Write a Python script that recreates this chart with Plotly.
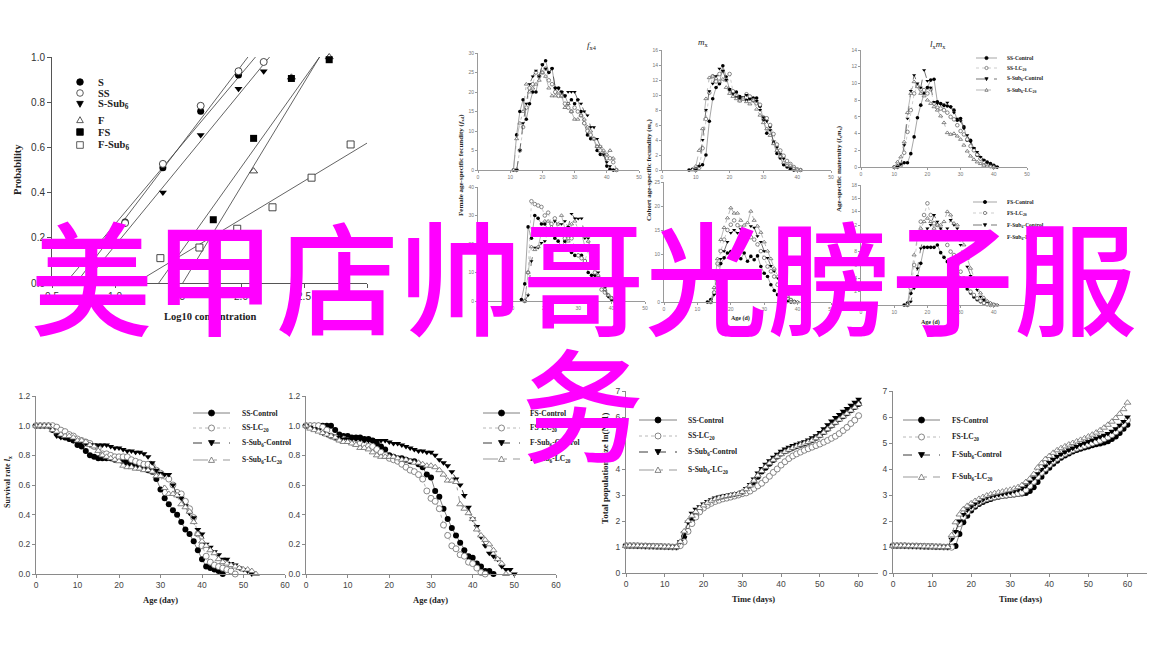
import numpy as np
import plotly.graph_objects as go

W, H = 1164, 657

# ------------------------------------------------------------------ data
# (A) probability vs log10 concentration
conc_S = [1.08, 1.38, 1.68, 1.98]
prob_S = [0.27, 0.51, 0.76, 0.92]
conc_SS = [1.08, 1.38, 1.68, 1.98, 2.18]
prob_SS = [0.265, 0.527, 0.784, 0.937, 0.978]
conc_SSub6 = [1.38, 1.68, 1.98, 2.18]
prob_SSub6 = [0.40, 0.655, 0.86, 0.937]
conc_F = [1.78, 2.10, 2.40, 2.70]
prob_F = [0.20, 0.495, 0.91, 1.0]
conc_FS = [1.78, 2.10, 2.40, 2.70]
prob_FS = [0.28, 0.64, 0.905, 0.988]
conc_FSub6 = [1.36, 1.67, 1.97, 2.25, 2.56, 2.87]
prob_FSub6 = [0.11, 0.157, 0.24, 0.335, 0.466, 0.613]
probit_names = ["S", "SS", "S-Sub<sub>6</sub>", "F", "FS", "F-Sub<sub>6</sub>"]
prob_ticks = [0.0, 0.2, 0.4, 0.6, 0.8, 1.0]
conc_ticks = [0.5, 1.0, 1.5, 2.0, 2.5, 3.0]

names_S = ["SS-Control", "SS-LC<sub>20</sub>", "S-Sub<sub>6</sub>-Control", "S-Sub<sub>6</sub>-LC<sub>20</sub>"]
names_F = ["FS-Control", "FS-LC<sub>20</sub>", "F-Sub<sub>6</sub>-Control", "F-Sub<sub>6</sub>-LC<sub>20</sub>"]

# (B) female age-specific fecundity f_x4, S strains (first day, values)
fx4_SSC_d0, fx4_SSC = 11, [0, 9, 15, 18, 13, 17, 20, 20, 24, 27, 28, 25, 26, 21, 21, 20, 19, 17, 18, 17, 18, 15, 12, 9, 8, 8, 5, 4, 4, 1, 0.2, 0]
fx4_SSL_d0, fx4_SSL = 12, [0, 5, 11, 16, 21, 22, 25, 24, 25, 26, 23, 22, 20, 19, 19, 17, 16, 15, 16, 15, 14, 12, 10, 9, 8, 6, 5, 4, 3, 3, 2, 0]
fx4_SBC_d0, fx4_SBC = 12, [0, 5, 12, 17, 22, 24, 25.5, 24, 27, 26, 25, 26, 21, 21, 20, 19, 20, 20, 20, 18, 17, 15, 14, 11, 11, 8, 6, 4, 2, 1, 0]
fx4_SBL_d0, fx4_SBL = 11, [0, 8, 12, 15, 22, 20, 21, 22, 23, 25, 24, 21, 19, 19, 20, 19, 16, 17, 15, 13, 13, 14, 13, 11, 10, 8, 6, 6, 5, 4, 5, 3, 0]

# (C) age-specific fecundity m_x, S strains
mx_SSC_d0, mx_SSC = 8, [0, 0.1, 0.2, 0.5, 0.7, 2.0, 6.5, 9.5, 11.0, 11.5, 13.9, 12.4, 10.7, 10.4, 10.4, 9.8, 9.6, 9.3, 9.5, 9.6, 9.6, 8.5, 6.7, 4.9, 5.8, 3.6, 2.2, 1.6, 0.7, 0.4, 0.1, 0]
mx_SSL_d0, mx_SSL = 10, [0, 0.3, 2.9, 6.8, 10.3, 12.5, 11.8, 12.8, 13.2, 12.0, 12.8, 10.5, 9.8, 9.3, 9.5, 10.1, 9.8, 9.3, 8.9, 8.7, 7.0, 6.9, 6.0, 4.8, 3.4, 2.6, 1.9, 1.2, 0.8, 0.4, 0.1, 0]
mx_SBC_d0, mx_SBC = 10, [0, 0.5, 4.0, 8.0, 10.5, 11.5, 12.5, 13.5, 13.2, 12.0, 10.8, 10.1, 9.7, 9.5, 9.7, 10.0, 9.5, 9.2, 9.2, 8.0, 7.0, 6.5, 5.3, 3.8, 3.0, 2.1, 1.5, 0.5, 0.2, 0]
mx_SBL_d0, mx_SBL = 9, [0, 0.5, 2.6, 5.5, 9.5, 12.3, 12.5, 12.2, 11.8, 12.1, 11.0, 10.2, 9.8, 9.5, 9.2, 9.6, 9.1, 8.8, 9.3, 8.1, 7.3, 6.3, 5.5, 4.6, 3.5, 2.6, 1.8, 1.0, 0.6, 0.6, 0.2, 0, 0]

# (D) age-specific maternity l_x m_x, S strains
lm_SSC_d0, lm_SSC = 10, [0, 0.1, 0.3, 0.5, 0.5, 1.6, 3.6, 5.9, 7.4, 8.8, 9.5, 10.4, 10.5, 7.8, 7.6, 7.4, 7.3, 7.2, 6.8, 5.6, 5.8, 4.8, 3.2, 3.2, 2.2, 1.4, 1.0, 0.8, 0.6, 0.4, 0.2, 0]
lm_SSL_d0, lm_SSL = 11, [0, 0.2, 1.7, 4.2, 6.8, 8.8, 9.7, 9.3, 9.2, 8.8, 9.3, 7.6, 7.1, 7.0, 6.8, 6.5, 6.0, 5.7, 5.0, 4.3, 3.9, 3.3, 2.5, 2.0, 1.5, 1.0, 0.6, 0.3, 0.1, 0]
lm_SBC_d0, lm_SBC = 11, [0, 0.3, 2.6, 5.8, 9.1, 11.0, 10.0, 9.5, 11.6, 10.3, 9.5, 7.8, 7.6, 7.5, 7.3, 7.7, 7.2, 6.5, 5.8, 5.5, 4.6, 3.8, 3.0, 2.3, 1.8, 1.2, 0.8, 0.5, 0.3, 0.1, 0]
lm_SBL_d0, lm_SBL = 10, [0, 0.6, 1.2, 3.0, 6.5, 8.8, 10.2, 9.6, 8.8, 8.5, 8.0, 7.6, 7.2, 6.8, 6.1, 5.3, 4.1, 3.9, 4.0, 3.7, 3.3, 2.6, 1.9, 1.3, 0.9, 0.6, 0.4, 0.2, 0.1, 0.05, 0]

# (E) female age-specific fecundity f_x4, F strains
fx4_FSC_d0, fx4_FSC = 13, [0.5, 6, 26, 22, 30, 29, 27, 27, 25, 25, 22, 21, 19, 21, 18, 17, 16, 16, 16, 14, 10, 9, 9, 8, 6, 5, 2, 1, 0.2, 0]
fx4_FSL_d0, fx4_FSL = 14, [0, 10, 35, 34, 33.5, 33, 30, 31, 27, 29, 25, 25, 22, 22, 22, 19, 16, 15, 14, 18, 12, 10, 8, 4, 3, 2, 1, 0]
fx4_FBC_d0, fx4_FBC = 14, [0, 2, 14, 18.7, 18.7, 20.4, 21, 24, 24, 28, 27, 27, 28, 26, 30.6, 29, 28.9, 29, 22, 22, 15, 12, 10, 6, 4, 1.4, 0.2, 0]
fx4_FBL_d0, fx4_FBL = 14, [0, 10, 19, 18, 19, 24, 28, 28, 26, 25, 27, 30, 25, 21, 27, 28, 25, 24, 19, 21, 14, 12, 9, 6, 4, 2, 1, 0]

# (F) cohort age-specific fecundity m_x, F strains
mx_FSC_d0, mx_FSC = 13, [0, 0.5, 1.9, 4.5, 8.0, 9.2, 10.2, 10.5, 10.0, 9.8, 9.0, 10.2, 8.5, 9.5, 8.8, 9.6, 7.4, 6.0, 5.3, 3.6, 2.4, 1.5, 0.8, 0.3, 0.1, 0]
mx_FSL_d0, mx_FSL = 14, [0, 2.0, 8.0, 10.6, 13.0, 15.0, 16.1, 17.0, 16.0, 15.5, 15.0, 14.0, 13.5, 13.0, 12.0, 10.6, 9.2, 7.4, 6.4, 5.3, 3.6, 2.5, 1.5, 0.8, 0.3, 0]
mx_FBC_d0, mx_FBC = 14, [0, 1.5, 6.0, 9.0, 10.6, 12.5, 14.4, 15.0, 14.4, 15.2, 14.8, 14.0, 15.8, 15.5, 13.7, 12.5, 10.6, 9.2, 7.5, 6.4, 5.0, 3.6, 2.2, 1.2, 0.5, 0.1, 0]
mx_FBL_d0, mx_FBL = 14, [0, 3.0, 9.0, 13.0, 15.5, 17.5, 19.6, 18.5, 18.5, 17.0, 16.0, 16.5, 18.9, 17.0, 15.8, 14.5, 12.5, 10.6, 9.0, 7.0, 5.3, 3.6, 2.2, 1.2, 0.5, 0.1, 0]

# (G) age-specific maternity l_x m_x, F strains
lm_FSC_d0, lm_FSC = 13, [0, 0.3, 1.75, 3.0, 4.25, 6.25, 8.65, 8.65, 8.65, 8.65, 9.0, 7.85, 7.15, 6.5, 6.8, 6.0, 5.0, 4.0, 3.2, 2.4, 1.8, 1.2, 0.8, 0.5, 0.3, 0.2, 0.1, 0]
lm_FSL_d0, lm_FSL = 14, [0, 2.5, 6.0, 10.0, 12.5, 13.5, 15.25, 13.5, 12.25, 12.0, 11.0, 10.0, 9.0, 8.0, 7.5, 6.0, 5.0, 4.0, 3.0, 2.0, 1.5, 1.0, 0.6, 0.3, 0.1, 0]
lm_FBC_d0, lm_FBC = 14, [0, 0.5, 2.5, 5.5, 8.5, 10.5, 11.5, 12.0, 13.5, 12.5, 11.5, 11.0, 11.5, 12.75, 12.0, 11.5, 9.0, 6.75, 5.75, 4.35, 3.25, 2.25, 1.25, 0.75, 0.5, 0.3, 0.1, 0]
lm_FBL_d0, lm_FBL = 14, [0, 3.5, 7.5, 10.0, 11.5, 12.5, 13.0, 12.5, 11.5, 12.0, 12.0, 12.5, 14.0, 13.5, 12.25, 12.0, 10.5, 9.0, 7.0, 5.5, 4.0, 2.8, 1.8, 1.1, 0.6, 0.3, 0.1, 0]

# (H) survival rate, S strains (day 0 onwards)
surv_SSC = [1, 1, 1, 1, 0.97, 0.95, 0.93, 0.92, 0.91, 0.90, 0.87, 0.86, 0.83, 0.80, 0.79, 0.78, 0.78, 0.78, 0.78, 0.77, 0.77, 0.76, 0.75, 0.74, 0.73, 0.72, 0.71, 0.70, 0.69, 0.64, 0.57, 0.51, 0.47, 0.43, 0.40, 0.35, 0.30, 0.27, 0.22, 0.16, 0.10, 0.05, 0.04, 0.03, 0.02, 0.0]
surv_SSL = [1, 1, 1, 1, 1, 0.99, 0.97, 0.96, 0.94, 0.93, 0.91, 0.90, 0.89, 0.88, 0.86, 0.85, 0.81, 0.81, 0.80, 0.79, 0.79, 0.79, 0.79, 0.77, 0.76, 0.75, 0.74, 0.74, 0.73, 0.70, 0.68, 0.66, 0.64, 0.60, 0.55, 0.54, 0.49, 0.44, 0.38, 0.27, 0.19, 0.12, 0.08, 0.06, 0.05, 0.04, 0.03, 0.02, 0.0]
surv_SBC = [1, 1, 1, 1, 0.97, 0.93, 0.92, 0.92, 0.91, 0.90, 0.89, 0.88, 0.88, 0.87, 0.87, 0.87, 0.87, 0.87, 0.86, 0.85, 0.85, 0.84, 0.83, 0.83, 0.82, 0.82, 0.81, 0.79, 0.75, 0.70, 0.68, 0.67, 0.67, 0.60, 0.53, 0.51, 0.46, 0.41, 0.38, 0.30, 0.27, 0.20, 0.18, 0.15, 0.13, 0.10, 0.10, 0.07, 0.06, 0.04, 0.03, 0.02, 0.0]
surv_SBL = [1, 1, 1, 1, 0.97, 0.96, 0.94, 0.93, 0.93, 0.92, 0.90, 0.90, 0.89, 0.87, 0.86, 0.83, 0.80, 0.79, 0.78, 0.77, 0.76, 0.73, 0.72, 0.72, 0.71, 0.71, 0.70, 0.70, 0.69, 0.66, 0.66, 0.58, 0.54, 0.54, 0.53, 0.47, 0.45, 0.42, 0.35, 0.27, 0.22, 0.19, 0.16, 0.14, 0.10, 0.08, 0.07, 0.06, 0.05, 0.04, 0.03, 0.03, 0.02, 0.0]

# (I) survival rate, F strains
surv_FSC = [1, 1, 1, 1, 1, 1, 1, 0.97, 0.94, 0.93, 0.93, 0.92, 0.92, 0.92, 0.91, 0.91, 0.90, 0.88, 0.86, 0.84, 0.80, 0.79, 0.78, 0.78, 0.77, 0.76, 0.76, 0.74, 0.72, 0.67, 0.65, 0.56, 0.52, 0.44, 0.37, 0.31, 0.26, 0.21, 0.16, 0.12, 0.11, 0.07, 0.05, 0.02, 0.02, 0.0]
surv_FSL = [1, 1, 1, 1, 0.99, 0.97, 0.93, 0.92, 0.91, 0.91, 0.90, 0.89, 0.88, 0.88, 0.87, 0.86, 0.86, 0.84, 0.82, 0.80, 0.78, 0.77, 0.76, 0.74, 0.72, 0.70, 0.69, 0.67, 0.64, 0.56, 0.51, 0.49, 0.44, 0.33, 0.26, 0.19, 0.17, 0.13, 0.12, 0.08, 0.07, 0.04, 0.01, 0.0]
surv_FBC = [1, 0.99, 0.98, 0.97, 0.95, 0.94, 0.93, 0.92, 0.92, 0.91, 0.91, 0.91, 0.91, 0.91, 0.90, 0.90, 0.90, 0.90, 0.90, 0.90, 0.89, 0.88, 0.88, 0.87, 0.86, 0.85, 0.84, 0.83, 0.83, 0.82, 0.82, 0.80, 0.77, 0.75, 0.73, 0.69, 0.64, 0.60, 0.53, 0.45, 0.37, 0.32, 0.25, 0.19, 0.14, 0.12, 0.10, 0.05, 0.03, 0.03, 0.0]
surv_FBL = [1, 0.98, 0.97, 0.96, 0.95, 0.94, 0.93, 0.92, 0.90, 0.89, 0.89, 0.88, 0.87, 0.85, 0.85, 0.84, 0.82, 0.80, 0.79, 0.79, 0.79, 0.79, 0.78, 0.77, 0.77, 0.76, 0.75, 0.75, 0.74, 0.73, 0.73, 0.72, 0.70, 0.67, 0.63, 0.63, 0.62, 0.47, 0.44, 0.41, 0.37, 0.30, 0.26, 0.23, 0.20, 0.16, 0.10, 0.07, 0.0]

# (J) total population size ln(N+1), S strains (days 0-60)
pop_SSC = [1.05, 1.05, 1.05, 1.04, 1.04, 1.03, 1.03, 1.03, 1.02, 1.02, 1.01, 1.01, 1.0, 1.0,
           1.15, 1.40, 1.62, 2.05, 2.25, 2.40, 2.55, 2.65, 2.75, 2.82, 2.87, 2.91, 2.94, 2.97, 3.0, 3.02, 3.06, 3.15, 3.30, 3.50,
           3.70, 3.90, 4.05, 4.20, 4.35, 4.48, 4.60, 4.68, 4.75, 4.82, 4.88, 4.93, 4.98, 5.05, 5.12, 5.20, 5.30, 5.42, 5.55, 5.67,
           5.80, 5.92, 6.03, 6.14, 6.26, 6.38, 6.50]
pop_SSL = [1.05, 1.05, 1.05, 1.05, 1.04, 1.04, 1.03, 1.03, 1.02, 1.02, 1.01, 1.01, 1.0, 1.0,
           1.05, 1.20, 1.60, 1.90, 2.15, 2.35, 2.50, 2.60, 2.68, 2.75, 2.80, 2.85, 2.88, 2.92, 2.96, 3.0, 3.05, 3.08, 3.15, 3.25,
           3.35, 3.45, 3.58, 3.72, 3.87, 4.0, 4.15, 4.28, 4.40, 4.50, 4.58, 4.65, 4.72, 4.78, 4.84, 4.90, 4.96, 5.03, 5.10, 5.18,
           5.26, 5.36, 5.48, 5.60, 5.75, 5.88, 6.05]
pop_SBC = [1.05, 1.05, 1.05, 1.04, 1.04, 1.03, 1.03, 1.02, 1.02, 1.01, 1.01, 1.0, 1.0, 0.99,
           1.20, 1.55, 1.95, 2.30, 2.45, 2.55, 2.65, 2.75, 2.82, 2.88, 2.92, 2.95, 2.98, 3.0, 3.03, 3.06, 3.12, 3.25, 3.40, 3.62,
           3.85, 4.02, 4.18, 4.32, 4.45, 4.57, 4.68, 4.77, 4.84, 4.90, 4.95, 5.0, 5.05, 5.12, 5.20, 5.28, 5.40, 5.55, 5.70, 5.85,
           5.98, 6.10, 6.22, 6.33, 6.45, 6.57, 6.68]
pop_SBL = [1.05, 1.05, 1.05, 1.05, 1.04, 1.04, 1.03, 1.03, 1.02, 1.02, 1.01, 1.01, 1.0, 1.0,
           1.20, 1.60, 2.00, 2.20, 2.35, 2.50, 2.60, 2.70, 2.78, 2.84, 2.89, 2.93, 2.96, 2.99, 3.02, 3.05, 3.12, 3.22, 3.36, 3.55,
           3.75, 3.92, 4.08, 4.22, 4.35, 4.47, 4.57, 4.66, 4.74, 4.81, 4.87, 4.93, 4.98, 5.04, 5.10, 5.18, 5.28, 5.40, 5.53, 5.66,
           5.78, 5.90, 6.02, 6.13, 6.25, 6.37, 6.50]

# (K) total population size ln(N+1), F strains (days 0-60)
pop_FSC = [1.05, 1.05, 1.05, 1.05, 1.04, 1.04, 1.03, 1.03, 1.02, 1.02, 1.02, 1.01, 1.01, 1.0, 1.0, 1.0,
           1.04, 1.50, 1.95, 2.20, 2.40, 2.55, 2.65, 2.73, 2.80, 2.85, 2.90, 2.93, 2.96, 2.98, 3.0, 3.02, 3.04, 3.06, 3.08, 3.15,
           3.30, 3.50, 3.70, 3.90, 4.05, 4.20, 4.32, 4.43, 4.52, 4.60, 4.67, 4.73, 4.78, 4.83, 4.87, 4.91, 4.95, 4.98, 5.02, 5.07,
           5.15, 5.25, 5.38, 5.55, 5.70]
pop_FSL = [1.05, 1.05, 1.05, 1.05, 1.04, 1.04, 1.04, 1.03, 1.03, 1.02, 1.02, 1.01, 1.01, 1.0, 1.0, 0.99,
           1.50, 1.90, 2.15, 2.35, 2.50, 2.62, 2.72, 2.80, 2.86, 2.90, 2.93, 2.96, 2.98, 3.0, 3.02, 3.04, 3.06, 3.10, 3.20, 3.35,
           3.52, 3.70, 3.87, 4.02, 4.17, 4.30, 4.41, 4.51, 4.60, 4.67, 4.74, 4.80, 4.85, 4.90, 4.95, 5.0, 5.05, 5.10, 5.16, 5.23,
           5.32, 5.43, 5.56, 5.72, 5.88]
pop_FBC = [1.05, 1.05, 1.05, 1.04, 1.04, 1.03, 1.03, 1.02, 1.02, 1.01, 1.01, 1.0, 1.0, 1.0, 0.99,
           1.30, 1.60, 2.00, 2.25, 2.42, 2.55, 2.66, 2.75, 2.83, 2.90, 2.95, 2.99, 3.02, 3.05, 3.08, 3.11, 3.15, 3.20, 3.25, 3.35,
           3.50, 3.65, 3.82, 3.98, 4.12, 4.25, 4.37, 4.48, 4.57, 4.65, 4.73, 4.80, 4.87, 4.94, 5.0, 5.06, 5.12, 5.18, 5.24, 5.30,
           5.37, 5.45, 5.55, 5.68, 5.83, 6.0]
pop_FBL = [1.05, 1.05, 1.05, 1.05, 1.04, 1.04, 1.03, 1.03, 1.02, 1.02, 1.01, 1.01, 1.0, 1.0, 1.0,
           1.45, 1.95, 2.25, 2.45, 2.58, 2.68, 2.77, 2.85, 2.92, 2.98, 3.03, 3.07, 3.10, 3.13, 3.17, 3.20, 3.25, 3.30, 3.38, 3.50,
           3.62, 3.80, 4.05, 4.22, 4.38, 4.50, 4.62, 4.72, 4.80, 4.87, 4.94, 5.00, 5.06, 5.12, 5.18, 5.25, 5.32, 5.40, 5.49, 5.59,
           5.70, 5.82, 5.96, 6.12, 6.30, 6.55]

overlay_line1 = "美甲店帅哥光膀子服"
overlay_line2 = "务"

# ------------------------------------------------------------------ helpers
def PX(x):
    return x / W


def PY(y):
    return 1 - y / H


fig = go.Figure()
layout = dict(width=W, height=H, margin=dict(l=0, r=0, t=0, b=0, pad=0), autosize=False,
              paper_bgcolor="white", plot_bgcolor="white", showlegend=False)
shapes, annotations = [], []


def names(n):
    if n == 1:
        return "x", "y", "xaxis", "yaxis"
    return f"x{n}", f"y{n}", f"xaxis{n}", f"yaxis{n}"


def make_axes(n, box, xr, yr, xt, yt, fs, fcol, lc, tl, xfmt=None, yfmt=None):
    x0, x1, ytop, ybot = box
    xa, ya, xk, yk = names(n)
    common = dict(showline=True, linecolor=lc, linewidth=1, ticks="outside", ticklen=tl,
                  tickcolor=lc, tickwidth=1, showgrid=False, zeroline=False, fixedrange=True,
                  automargin=False,
                  tickfont=dict(family="Liberation Sans", size=fs, color=fcol))
    layout[xk] = dict(domain=[PX(x0), PX(x1)], range=xr, anchor=ya, tickvals=xt, **common)
    layout[yk] = dict(domain=[PY(ybot), PY(ytop)], range=yr, anchor=xa, tickvals=yt, **common)
    if xfmt:
        layout[xk]["tickformat"] = xfmt
    if yfmt:
        layout[yk]["tickformat"] = yfmt


def text(t, x, y, size, family="Liberation Serif", color="#222", xanchor="center",
         yanchor="middle", angle=0):
    annotations.append(dict(text=t, x=PX(x), y=PY(y), xref="paper", yref="paper",
                            xanchor=xanchor, yanchor=yanchor, showarrow=False, textangle=angle,
                            font=dict(family=family, size=size, color=color)))


def marker_shape(kind, cx, cy, r, fill, edge, lw=0.8):
    base = dict(xref="paper", yref="paper", fillcolor=fill, line=dict(color=edge, width=lw))
    if kind in ("circle", "square"):
        base.update(type="circle" if kind == "circle" else "rect",
                    x0=PX(cx - r), x1=PX(cx + r), y0=PY(cy + r), y1=PY(cy - r))
        return base
    if kind == "tri-down":
        p = [(cx - r, cy - 0.8 * r), (cx + r, cy - 0.8 * r), (cx, cy + r)]
    else:
        p = [(cx - r, cy + 0.8 * r), (cx + r, cy + 0.8 * r), (cx, cy - r)]
    path = "M " + " L ".join(f"{PX(a):.6f},{PY(b):.6f}" for a, b in p) + " Z"
    base.update(type="path", path=path)
    return base


# four-series line styles
STY = [
    dict(lc="#808080", dash="solid", sym="circle", fill="black", edge="black", kind="circle"),
    dict(lc="#b8b8b8", dash="dot", sym="circle", fill="white", edge="#6a6a6a", kind="circle"),
    dict(lc="#3a3a3a", dash="dash", sym="triangle-down", fill="black", edge="black", kind="tri-down"),
    dict(lc="#999999", dash="longdashdot", sym="triangle-up", fill="white", edge="#6a6a6a", kind="tri-up"),
]


def add_four(n, series, msize, lw):
    xa, ya, _, _ = names(n)
    for i, (d0, vals) in enumerate(series):
        st = STY[i]
        days = list(range(d0, d0 + len(vals)))
        fig.add_trace(go.Scatter(
            x=days, y=vals, xaxis=xa, yaxis=ya, mode="lines+markers", cliponaxis=False,
            line=dict(color=st["lc"], width=lw, dash=st["dash"]),
            marker=dict(symbol=st["sym"], size=msize, color=st["fill"],
                        line=dict(color=st["edge"], width=0.8 if st["fill"] == "white" else 0))))


def four_legend(labels, lx0, lx1, tx, rows, fsize, r, lw, bold=True):
    for i, (lab, y) in enumerate(zip(labels, rows)):
        st = STY[i]
        shapes.append(dict(type="line", xref="paper", yref="paper", x0=PX(lx0), x1=PX(lx1),
                           y0=PY(y), y1=PY(y), line=dict(color=st["lc"], width=lw, dash=st["dash"])))
        shapes.append(marker_shape(st["kind"], (lx0 + lx1) / 2, y, r, st["fill"], st["edge"]))
        text(f"<b>{lab}</b>" if bold else lab, tx, y, fsize, xanchor="left")


# ------------------------------------------------------------------ panel A
make_axes(1, (52, 367, 57, 283), [0.5, 3.0], [0, 1], conc_ticks, prob_ticks, 10, "#333", "#555", 4,
          xfmt=".1f", yfmt=".1f")
probit_sets = [(conc_S, prob_S), (conc_SS, prob_SS), (conc_SSub6, prob_SSub6),
               (conc_F, prob_F), (conc_FS, prob_FS), (conc_FSub6, prob_FSub6)]
probit_marks = [("circle", "black", "black"), ("circle", "white", "#333"), ("triangle-down", "black", "black"),
                ("triangle-up", "white", "#333"), ("square", "black", "black"), ("square", "white", "#333")]
for (cx, py), (sym, fill, edge) in zip(probit_sets, probit_marks):
    b, a = np.polyfit(cx, py, 1)
    x_lo = max(0.5, (0 - a) / b)
    x_hi = min(3.0, (1 - a) / b)
    xs = [x_lo, x_hi]
    fig.add_trace(go.Scatter(x=xs, y=[a + b * v for v in xs], xaxis="x", yaxis="y", mode="lines",
                             line=dict(color="#3c3c3c", width=0.8)))
for (cx, py), (sym, fill, edge) in zip(probit_sets, probit_marks):
    fig.add_trace(go.Scatter(x=cx, y=py, xaxis="x", yaxis="y", mode="markers", cliponaxis=False,
                             marker=dict(symbol=sym, size=7, color=fill,
                                         line=dict(color=edge, width=0.9 if fill == "white" else 0))))
text("<b>Probability</b>", 17, 170, 10.5, angle=-90)
text("<b>Log10 concentration</b>", 210, 316, 10.5)
legA_rows = [82, 93, 104, 120, 132, 145]
legA_kinds = ["circle", "circle", "tri-down", "tri-up", "square", "square"]
for lab, y, kind, (sym, fill, edge) in zip(probit_names, legA_rows, legA_kinds, probit_marks):
    shapes.append(marker_shape(kind, 80, y, 3.3, fill, edge))
    text(f"<b>{lab}</b>", 96, y, 10.5, xanchor="left")

# ------------------------------------------------------------------ top small panels
tiny = dict(fs=5, fcol="#777", lc="#9a9a9a", tl=2)
make_axes(2, (478, 639, 53, 170), [0, 50], [0, 30], list(range(0, 51, 10)), list(range(0, 31, 5)), **tiny)
make_axes(3, (662, 831, 50, 170), [0, 50], [0, 16], list(range(0, 51, 10)), list(range(0, 17, 2)), **tiny)
make_axes(4, (861, 1027, 50, 167), [0, 50], [0, 14], list(range(0, 51, 10)), list(range(0, 15, 2)), **tiny)
make_axes(5, (478, 645, 187, 301), [0, 50], [0, 40], list(range(0, 51, 10)), list(range(0, 41, 10)), **tiny)
make_axes(6, (664, 831, 182, 302), [0, 50], [0, 25], list(range(0, 51, 10)), list(range(0, 26, 5)), **tiny)
make_axes(7, (861, 1027, 185, 305), [0, 50], [0, 18], list(range(0, 51, 10)), list(range(0, 19, 2)), **tiny)

add_four(2, [(fx4_SSC_d0, fx4_SSC), (fx4_SSL_d0, fx4_SSL), (fx4_SBC_d0, fx4_SBC), (fx4_SBL_d0, fx4_SBL)], 3.6, 0.7)
add_four(3, [(mx_SSC_d0, mx_SSC), (mx_SSL_d0, mx_SSL), (mx_SBC_d0, mx_SBC), (mx_SBL_d0, mx_SBL)], 3.6, 0.7)
add_four(4, [(lm_SSC_d0, lm_SSC), (lm_SSL_d0, lm_SSL), (lm_SBC_d0, lm_SBC), (lm_SBL_d0, lm_SBL)], 3.6, 0.7)
add_four(5, [(fx4_FSC_d0, fx4_FSC), (fx4_FSL_d0, fx4_FSL), (fx4_FBC_d0, fx4_FBC), (fx4_FBL_d0, fx4_FBL)], 3.6, 0.7)
add_four(6, [(mx_FSC_d0, mx_FSC), (mx_FSL_d0, mx_FSL), (mx_FBC_d0, mx_FBC), (mx_FBL_d0, mx_FBL)], 3.6, 0.7)
add_four(7, [(lm_FSC_d0, lm_FSC), (lm_FSL_d0, lm_FSL), (lm_FBC_d0, lm_FBC), (lm_FBL_d0, lm_FBL)], 3.6, 0.7)

text("<i>f</i><sub>x4</sub>", 592, 45, 9)
text("<i>m</i><sub>x</sub>", 703, 43, 9)
text("<i>l</i><sub>x</sub><i>m</i><sub>x</sub>", 938, 44, 9)
text("<b>Female age-specific fecundity (<i>f</i><sub>x4</sub>)</b>", 461, 165, 7, angle=-90)
text("<b>Cohort age-specific fecundity (<i>m</i><sub>x</sub>)</b>", 649, 170, 7, angle=-90)
text("<b>Age-specific maternity (<i>l</i><sub>x</sub><i>m</i><sub>x</sub>)</b>", 839, 169, 7, angle=-90)
text("<b>Age (d)</b>", 740, 318, 6)
text("<b>Age (d)</b>", 930, 322, 6)
four_legend(names_S, 976, 997, 1005, [58, 68, 79, 90], 5.5, 1.6, 0.7)
four_legend(names_F, 973, 997, 1005, [202, 213, 225, 237], 5.5, 1.6, 0.7)

# ------------------------------------------------------------------ bottom panels
big = dict(fs=8.5, fcol="#444", lc="#8a8a8a", tl=3)
surv_ticks = [0.0, 0.2, 0.4, 0.6, 0.8, 1.0, 1.2]
make_axes(8, (36, 285, 396, 574), [0, 60], [0, 1.2], list(range(0, 61, 10)), surv_ticks, yfmt=".1f", **big)
make_axes(9, (306, 556, 396, 574), [0, 60], [0, 1.2], list(range(0, 61, 10)), surv_ticks, yfmt=".1f", **big)
make_axes(10, (626, 878, 391, 573), [0, 65], [0, 7], list(range(0, 61, 10)), list(range(0, 8)), **big)
make_axes(11, (893, 1147, 391, 573), [0, 65], [0, 7], list(range(0, 61, 10)), list(range(0, 8)), **big)

add_four(8, [(0, surv_SSC), (0, surv_SSL), (0, surv_SBC), (0, surv_SBL)], 6, 1)
add_four(9, [(0, surv_FSC), (0, surv_FSL), (0, surv_FBC), (0, surv_FBL)], 6, 1)
add_four(10, [(0, pop_SSC), (0, pop_SSL), (0, pop_SBC), (0, pop_SBL)], 6, 1)
add_four(11, [(0, pop_FSC), (0, pop_FSL), (0, pop_FBC), (0, pop_FBL)], 6, 1)

text("<b>Survival rate <i>l</i><sub>x</sub></b>", 8, 482, 8, angle=-90)
text("<b>Age (day)</b>", 160, 600, 8.5)
text("<b>Age (day)</b>", 430, 600, 8.5)
text("<b>Total population size ln(N+1)</b>", 605, 468, 9, angle=-90)
text("<b>Time (days)</b>", 753, 599, 8.5)
text("<b>Time (days)</b>", 1020, 599, 8.5)
four_legend(names_S, 193, 230, 240, [413, 428, 443, 460], 7.5, 3, 1)
four_legend(names_F, 483, 520, 528, [413, 428, 443, 459], 7.5, 3, 1)
four_legend(names_S, 639, 677, 686, [420, 436, 452, 470], 7.5, 3, 1)
four_legend(names_F, 903, 940, 950, [420, 437, 455, 477], 7.5, 3, 1)

# ------------------------------------------------------------------ overlay text
annotations.append(dict(text=overlay_line1, x=PX(583), y=PY(272), xref="paper", yref="paper",
                        xanchor="center", yanchor="middle", showarrow=False,
                        font=dict(family="Noto Sans CJK SC", size=123, color="#FF00FF", weight=500)))
annotations.append(dict(text=overlay_line2, x=PX(582), y=PY(399), xref="paper", yref="paper",
                        xanchor="center", yanchor="middle", showarrow=False,
                        font=dict(family="Noto Sans CJK SC", size=123, color="#FF00FF", weight=500)))

layout["shapes"] = shapes
layout["annotations"] = annotations
fig.update_layout(**layout)
fig.write_html("out.html", config={"displayModeBar": False},
               post_script="document.body.style.margin='0';document.body.style.overflow='hidden';")
